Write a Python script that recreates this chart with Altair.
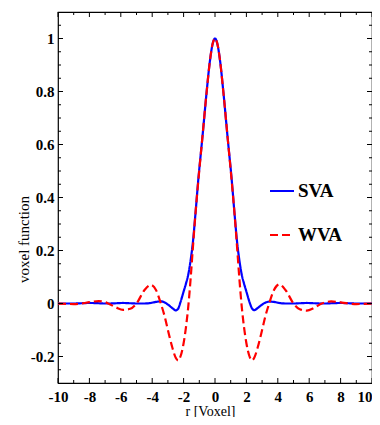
import altair as alt
import pandas as pd

# ---- data ----
r_vals = [-10, -9, -8.5, -8, -7.4, -7, -6.8, -6.3, -5.85, -5.4, -5, -4.5, -4.1, -3.75, -3.45, -3.2,
          -3, -2.7, -2.5, -2.35, -2.2, -2, -1.85, -1.7, -1.56, -1.41, -1.25, -1.06, -0.82, -0.53, -0.32, -0.15,
          0,
          0.15, 0.32, 0.53, 0.82, 1.06, 1.25, 1.41, 1.56, 1.7, 1.85, 2, 2.2, 2.35, 2.5, 2.7,
          3, 3.2, 3.45, 3.75, 4.1, 4.5, 5, 5.4, 5.85, 6.3, 6.8, 7, 7.4, 8, 8.5, 9, 10]

sva_vals = [0, 0, 0.001, 0.002, 0.001, 0, 0, 0.001, 0.002, 0.001, 0, 0, 0.002, 0.006, 0.008, 0.004,
            -0.004, -0.018, -0.026, -0.02, 0.005, 0.045, 0.075, 0.11, 0.16, 0.23, 0.335, 0.47, 0.616, 0.80, 0.917, 0.98,
            1.0,
            0.98, 0.917, 0.80, 0.616, 0.47, 0.335, 0.23, 0.16, 0.11, 0.075, 0.045, 0.005, -0.018, -0.025, -0.018,
            -0.004, 0.003, 0.007, 0.006, 0.002, 0, 0, 0.001, 0.002, 0.001, 0, 0, 0.001, 0.002, 0.001, 0, 0]

wva_vals = [0, -0.002, 0, 0.005, 0.009, 0.005, 0.0, -0.015, -0.024, -0.02, 0.0, 0.05, 0.07, 0.05, 0.0, -0.05,
            -0.10, -0.17, -0.205, -0.215, -0.20, -0.15, -0.09, -0.01, 0.088, 0.21, 0.335, 0.465, 0.616, 0.80, 0.917, 0.98,
            1.0,
            0.98, 0.917, 0.80, 0.616, 0.465, 0.335, 0.21, 0.088, -0.01, -0.09, -0.15, -0.20, -0.215, -0.205, -0.17,
            -0.10, -0.05, 0.0, 0.05, 0.072, 0.05, 0.0, -0.022, -0.027, -0.017, 0.0, 0.004, 0.008, 0.004, 0.0, -0.002, 0]

series_names = ["SVA", "WVA"]
series_colors = ["#0000ff", "#ff0000"]

x_major = [-10, -8, -6, -4, -2, 0, 2, 4, 6, 8, 10]
x_minor = [-9, -7, -5, -3, -1, 1, 3, 5, 7, 9]
y_major = [-0.2, 0, 0.2, 0.4, 0.6, 0.8, 1]
y_minor = [-0.25, -0.15, -0.1, -0.05, 0.05, 0.1, 0.15, 0.25, 0.3, 0.35, 0.45, 0.5, 0.55,
           0.65, 0.7, 0.75, 0.85, 0.9, 0.95, 1.05]

# ---- tables ----
rows = []
for name, vals in zip(series_names, [sva_vals, wva_vals]):
    for xv, yv in zip(r_vals, vals):
        rows.append({"r": xv, "v": yv, "series": name})
df = pd.DataFrame(rows)

W, H = 314, 371
FONT = "Liberation Serif"
MAJ, MIN = 5, 3
XT, YT = "r [Voxel]", "voxel function"

xscale = alt.Scale(domain=[-10, 10], nice=False, zero=False)
yscale = alt.Scale(domain=[-0.3, 1.1], nice=False, zero=False)

xaxis = alt.Axis(title=XT, values=x_major, labelExpr="'' + datum.value",
                 grid=False, domain=False, ticks=False, tickSize=0, labelPadding=6,
                 labelAlign={"condition": {"test": "datum.value >= 10", "value": "right"}, "value": "center"},
                 labelFont=FONT, labelFontSize=15, labelFontWeight="bold", labelColor="black",
                 titleFont=FONT, titleFontSize=14, titleFontWeight="normal", titleColor="black",
                 titleX=152, titleY=32, titleBaseline="alphabetic", titleAlign="center",
                 labelFlush=False, labelOverlap=False)
yaxis = alt.Axis(title=YT, values=y_major, labelExpr="'' + datum.value",
                 grid=False, domain=False, ticks=False, tickSize=0, labelPadding=4,
                 labelFont=FONT, labelFontSize=15, labelFontWeight="bold", labelColor="black",
                 titleFont=FONT, titleFontSize=15, titleFontWeight="normal", titleColor="black",
                 titleX=-30, titleY=227, titleBaseline="alphabetic", titleAlign="center",
                 titleAngle=270, labelFlush=False, labelOverlap=False)

leg = alt.Legend(title=None, orient="none", legendX=211, legendY=166,
                 symbolType="stroke", symbolSize=576, symbolStrokeWidth=2,
                 labelFont=FONT, labelFontSize=19, labelFontWeight="bold",
                 labelColor="black", labelOffset=3, rowPadding=21, padding=0, labelLimit=0)

lines = alt.Chart(df).mark_line(strokeWidth=2.2, interpolate="monotone").encode(
    x=alt.X("r:Q", scale=xscale, axis=xaxis),
    y=alt.Y("v:Q", scale=yscale, axis=yaxis),
    color=alt.Color("series:N", scale=alt.Scale(domain=series_names, range=series_colors), legend=leg),
    strokeDash=alt.StrokeDash("series:N",
                              scale=alt.Scale(domain=series_names, range=[[1, 0], [8, 4]]),
                              legend=leg),
)

def tdf(vals):
    return pd.DataFrame({"t": vals})

layers = [lines]
for vals, ln in [(y_major, MAJ), (y_minor, MIN)]:
    layers.append(alt.Chart(tdf(vals)).mark_rule(color="black", strokeWidth=1).encode(
        y=alt.Y("t:Q", scale=yscale, axis=yaxis), x=alt.value(0), x2=alt.value(ln)))
    layers.append(alt.Chart(tdf(vals)).mark_rule(color="black", strokeWidth=1).encode(
        y=alt.Y("t:Q", scale=yscale, axis=yaxis), x=alt.value(W - ln), x2=alt.value(W)))
for vals, ln in [(x_major, MAJ), (x_minor, MIN)]:
    layers.append(alt.Chart(tdf(vals)).mark_rule(color="black", strokeWidth=1).encode(
        x=alt.X("t:Q", scale=xscale, axis=xaxis), y=alt.value(H - ln), y2=alt.value(H)))
    layers.append(alt.Chart(tdf(vals)).mark_rule(color="black", strokeWidth=1).encode(
        x=alt.X("t:Q", scale=xscale, axis=xaxis), y=alt.value(0), y2=alt.value(ln)))

chart = alt.layer(*layers).properties(
    width=W, height=H,
    autosize=alt.AutoSizeParams(type="none"),
    padding={"left": 50, "top": 4, "right": 0, "bottom": 34},
).configure_view(stroke="black", strokeWidth=1.2)

chart.save("out.html", embed_options={"renderer": "svg", "actions": False})
